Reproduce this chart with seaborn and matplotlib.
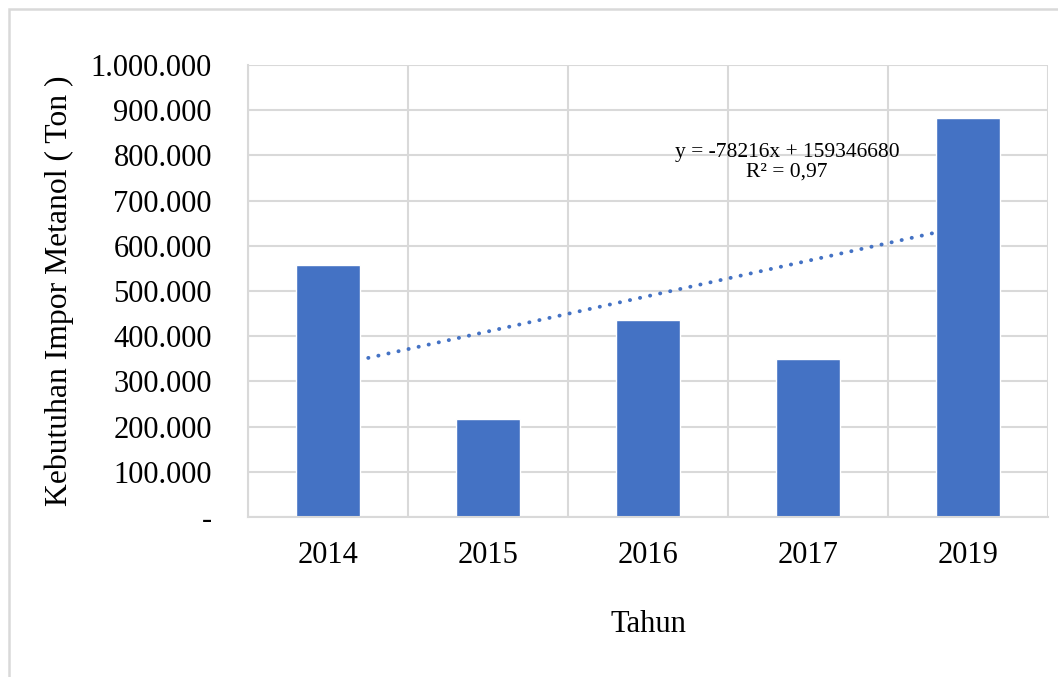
import numpy as np
import pandas as pd
import seaborn as sns
import matplotlib.pyplot as plt
from matplotlib.ticker import FuncFormatter, FixedLocator
from matplotlib.patches import Rectangle

years = ["2014", "2015", "2016", "2017", "2019"]
impor = [558000, 217000, 436500, 349000, 883000]
eq_text = "y = -78216x + 159346680\nR² = 0,97"

sns.set_theme(style="white")
plt.rcParams['font.family'] = ['Liberation Serif', 'DejaVu Serif']
plt.rcParams['text.color'] = 'black'
plt.rcParams['axes.labelcolor'] = 'black'

df = pd.DataFrame({"Tahun": years, "Impor": impor})

fig = plt.figure(figsize=(10.58, 6.77), dpi=100)
ax = fig.add_axes([248 / 1058, 1 - 517 / 677, 800 / 1058, 452 / 677])

sns.barplot(data=df, x="Tahun", y="Impor", color="#4472C4", saturation=1,
            width=0.4, ax=ax, zorder=2)

# linear trendline over category index
xi = np.arange(len(impor))
m, c = np.polyfit(xi, impor, 1)
ax.plot(xi, m * xi + c, color="#4472C4", linestyle=(0, (0.05, 2.6)),
        linewidth=2.8, dash_capstyle="round", zorder=1)

ax.set_xlim(-0.5, len(years) - 0.5)
ax.set_ylim(0, 1000000)
ax.set_yticks(np.arange(0, 1000001, 100000))
ax.yaxis.set_major_formatter(FuncFormatter(
    lambda v, p: "-" if v == 0 else f"{int(v):,}".replace(",", ".")))
ax.xaxis.set_minor_locator(FixedLocator(np.arange(-0.5, len(years), 1.0)))

ax.set_axisbelow(True)
ax.grid(axis="y", which="major", color="#d9d9d9", linewidth=1.5)
ax.grid(axis="x", which="minor", color="#d9d9d9", linewidth=1.5)
for s in ["top", "right"]:
    ax.spines[s].set_visible(False)
for s in ["left", "bottom"]:
    ax.spines[s].set_color("#d9d9d9")
    ax.spines[s].set_linewidth(1.5)

ax.tick_params(axis="y", length=0, pad=26, labelsize=22, colors="black")
ax.tick_params(axis="x", which="both", length=0, pad=17, labelsize=22, colors="black")
ax.set_xlabel("Tahun", fontsize=22, labelpad=29)
ax.set_ylabel("Kebutuhan Impor Metanol ( Ton )", fontsize=22.8, labelpad=12)

ax.text(0.674, 0.785, eq_text, transform=ax.transAxes, ha="center", va="center",
        fontsize=15.5, linespacing=1.05, zorder=3, color="black")

fig.patches.append(Rectangle((9 / 1058, -0.1), 1.2, 1 - 9 / 677 + 0.1,
                             transform=fig.transFigure, fill=False,
                             edgecolor="#d9d9d9", linewidth=1.8))

fig.savefig("out.png", dpi=100)
